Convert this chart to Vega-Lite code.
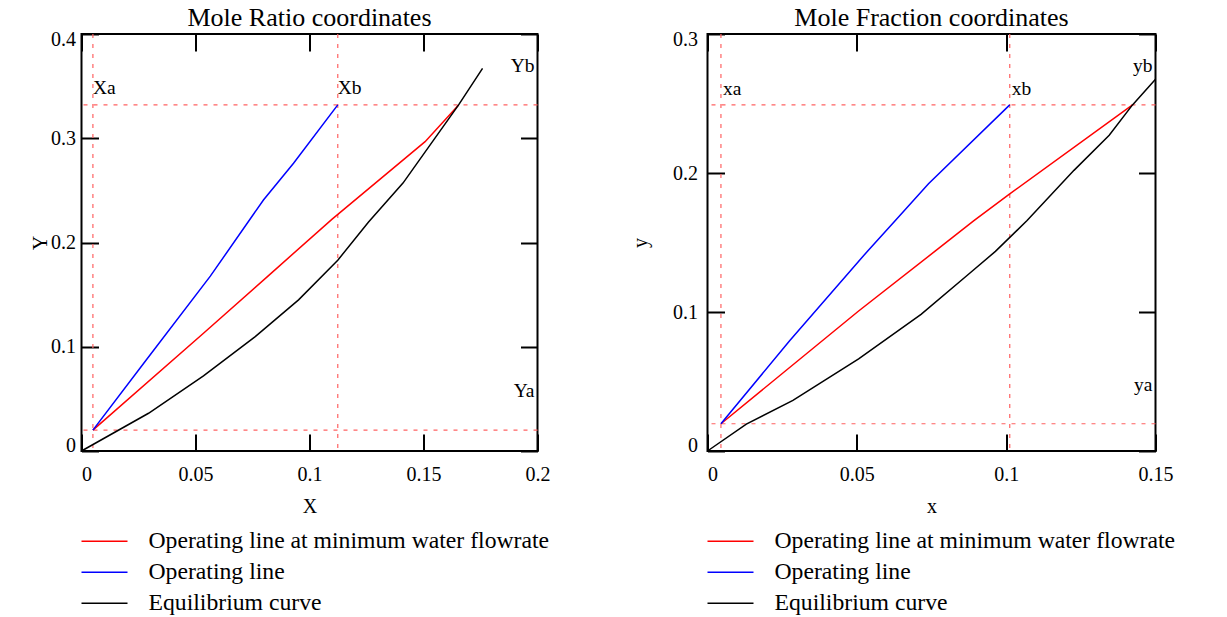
{
  "$schema": "https://vega.github.io/schema/vega-lite/v6.json",
  "padding": {"left": 29.5, "top": 4, "right": 0, "bottom": 0},
  "background": "white",
  "spacing": 77,
  "datasets": {
    "curves": [
      {"p": "R", "s": "Operating line at minimum water flowrate", "o": 1, "x": 0.005, "y": 0.020},
      {"p": "R", "s": "Operating line at minimum water flowrate", "o": 2, "x": 0.0535, "y": 0.113},
      {"p": "R", "s": "Operating line at minimum water flowrate", "o": 3, "x": 0.0824, "y": 0.169},
      {"p": "R", "s": "Operating line at minimum water flowrate", "o": 4, "x": 0.1098, "y": 0.2222},
      {"p": "R", "s": "Operating line at minimum water flowrate", "o": 5, "x": 0.1507, "y": 0.2967},
      {"p": "R", "s": "Operating line at minimum water flowrate", "o": 6, "x": 0.1654, "y": 0.332},
      {"p": "R", "s": "Operating line", "o": 1, "x": 0.005, "y": 0.020},
      {"p": "R", "s": "Operating line", "o": 2, "x": 0.0283, "y": 0.087},
      {"p": "R", "s": "Operating line", "o": 3, "x": 0.0565, "y": 0.1677},
      {"p": "R", "s": "Operating line", "o": 4, "x": 0.0798, "y": 0.2408},
      {"p": "R", "s": "Operating line", "o": 5, "x": 0.093, "y": 0.276},
      {"p": "R", "s": "Operating line", "o": 6, "x": 0.1124, "y": 0.332},
      {"p": "R", "s": "Equilibrium curve", "o": 1, "x": 0, "y": 0},
      {"p": "R", "s": "Equilibrium curve", "o": 2, "x": 0.0294, "y": 0.0362},
      {"p": "R", "s": "Equilibrium curve", "o": 3, "x": 0.0535, "y": 0.072},
      {"p": "R", "s": "Equilibrium curve", "o": 4, "x": 0.0762, "y": 0.1097},
      {"p": "R", "s": "Equilibrium curve", "o": 5, "x": 0.0952, "y": 0.145},
      {"p": "R", "s": "Equilibrium curve", "o": 6, "x": 0.1124, "y": 0.183},
      {"p": "R", "s": "Equilibrium curve", "o": 7, "x": 0.1259, "y": 0.2197},
      {"p": "R", "s": "Equilibrium curve", "o": 8, "x": 0.141, "y": 0.257},
      {"p": "R", "s": "Equilibrium curve", "o": 9, "x": 0.1654, "y": 0.332},
      {"p": "R", "s": "Equilibrium curve", "o": 10, "x": 0.1759, "y": 0.367},
      {"p": "F", "s": "Operating line at minimum water flowrate", "o": 1, "x": 0.0045, "y": 0.0196},
      {"p": "F", "s": "Operating line at minimum water flowrate", "o": 2, "x": 0.0506, "y": 0.1007},
      {"p": "F", "s": "Operating line at minimum water flowrate", "o": 3, "x": 0.0761, "y": 0.1436},
      {"p": "F", "s": "Operating line at minimum water flowrate", "o": 4, "x": 0.0892, "y": 0.1658},
      {"p": "F", "s": "Operating line at minimum water flowrate", "o": 5, "x": 0.1012, "y": 0.185},
      {"p": "F", "s": "Operating line at minimum water flowrate", "o": 6, "x": 0.1423, "y": 0.249},
      {"p": "F", "s": "Operating line", "o": 1, "x": 0.0045, "y": 0.0196},
      {"p": "F", "s": "Operating line", "o": 2, "x": 0.0275, "y": 0.0793},
      {"p": "F", "s": "Operating line", "o": 3, "x": 0.0535, "y": 0.1436},
      {"p": "F", "s": "Operating line", "o": 4, "x": 0.0629, "y": 0.1658},
      {"p": "F", "s": "Operating line", "o": 5, "x": 0.074, "y": 0.1923},
      {"p": "F", "s": "Operating line", "o": 6, "x": 0.1012, "y": 0.249},
      {"p": "F", "s": "Equilibrium curve", "o": 1, "x": 0, "y": 0},
      {"p": "F", "s": "Equilibrium curve", "o": 2, "x": 0.013, "y": 0.0193},
      {"p": "F", "s": "Equilibrium curve", "o": 3, "x": 0.0286, "y": 0.0364},
      {"p": "F", "s": "Equilibrium curve", "o": 4, "x": 0.0506, "y": 0.0662},
      {"p": "F", "s": "Equilibrium curve", "o": 5, "x": 0.0715, "y": 0.0983},
      {"p": "F", "s": "Equilibrium curve", "o": 6, "x": 0.0866, "y": 0.1257},
      {"p": "F", "s": "Equilibrium curve", "o": 7, "x": 0.0964, "y": 0.1436},
      {"p": "F", "s": "Equilibrium curve", "o": 8, "x": 0.107, "y": 0.1658},
      {"p": "F", "s": "Equilibrium curve", "o": 9, "x": 0.1227, "y": 0.2019},
      {"p": "F", "s": "Equilibrium curve", "o": 10, "x": 0.1345, "y": 0.2272},
      {"p": "F", "s": "Equilibrium curve", "o": 11, "x": 0.1423, "y": 0.249},
      {"p": "F", "s": "Equilibrium curve", "o": 12, "x": 0.15, "y": 0.2675}
    ],
    "markers": [
      {"p": "R", "name": "Xa", "dir": "v", "value": 0.005},
      {"p": "R", "name": "Xb", "dir": "v", "value": 0.1124},
      {"p": "R", "name": "Ya", "dir": "h", "value": 0.020},
      {"p": "R", "name": "Yb", "dir": "h", "value": 0.332},
      {"p": "F", "name": "xa", "dir": "v", "value": 0.0045},
      {"p": "F", "name": "xb", "dir": "v", "value": 0.1012},
      {"p": "F", "name": "ya", "dir": "h", "value": 0.0196},
      {"p": "F", "name": "yb", "dir": "h", "value": 0.249}
    ]
  },
  "hconcat": [
    {
      "width": 456,
      "height": 417,
      "title": {"text": "Mole Ratio coordinates"},
      "layer": [
        {
          "data": {"name": "markers"},
          "transform": [{"filter": "datum.p == 'R' && datum.dir == 'v'"}],
          "mark": {"type": "rule", "color": "#ff6262", "strokeWidth": 1.2, "strokeDash": [4, 6]},
          "encoding": {
            "x": {"field": "value", "type": "quantitative", "scale": {"domain": [0, 0.2], "nice": false, "zero": false},
                  "axis": {"orient": "top", "labels": false, "title": null, "values": [0, 0.05, 0.1, 0.15, 0.2]}}
          }
        },
        {
          "data": {"name": "markers"},
          "transform": [{"filter": "datum.p == 'R' && datum.dir == 'h'"}],
          "mark": {"type": "rule", "color": "#ff6262", "strokeWidth": 1.2, "strokeDash": [4, 6]},
          "encoding": {
            "y": {"field": "value", "type": "quantitative", "scale": {"domain": [0, 0.4], "nice": false, "zero": false},
                  "axis": {"orient": "right", "labels": false, "title": null, "values": [0, 0.1, 0.2, 0.3, 0.4]}}
          }
        },
        {
          "data": {"name": "curves"},
          "transform": [{"filter": "datum.p == 'R'"}],
          "mark": {"type": "line", "strokeWidth": 1.5},
          "encoding": {
            "x": {"field": "x", "type": "quantitative", "scale": {"domain": [0, 0.2], "nice": false, "zero": false},
                  "axis": {"orient": "bottom", "title": "X", "values": [0, 0.05, 0.1, 0.15, 0.2], "format": ".2~f",
                           "labelAlign": {"condition": {"test": "datum.value == 0", "value": "left"}, "value": "center"},
                           "labelPadding": 30, "titlePadding": 12}},
            "y": {"field": "y", "type": "quantitative", "scale": {"domain": [0, 0.4], "nice": false, "zero": false},
                  "axis": {"orient": "left", "title": "Y", "values": [0, 0.1, 0.2, 0.3, 0.4], "format": ".1~f",
                           "labelBaseline": {"condition": {"test": "datum.value == 0", "value": "alphabetic"}, "value": "middle"},
                           "labelOffset": {"condition": {"test": "datum.value > 0.35", "value": 5}, "value": 0},
                           "labelPadding": 23, "titlePadding": 0}},
            "color": {"field": "s", "type": "nominal",
                      "scale": {"domain": ["Operating line at minimum water flowrate", "Operating line", "Equilibrium curve"], "range": ["#ff0000", "#0000ff", "#000000"]},
                      "legend": {"orient": "none", "legendX": 10.5, "legendY": 494.7, "title": null}},
            "order": {"field": "o", "type": "quantitative"}
          }
        },
        {
          "data": {"name": "markers"},
          "transform": [{"filter": "datum.p == 'R' && datum.dir == 'v'"}],
          "mark": {"type": "text", "align": "left", "baseline": "middle", "dx": 0, "font": "Liberation Serif", "fontSize": 19.5, "color": "black"},
          "encoding": {
            "x": {"field": "value", "type": "quantitative", "scale": {"domain": [0, 0.2], "nice": false, "zero": false}, "axis": null},
            "y": {"datum": 0.348, "type": "quantitative", "scale": {"domain": [0, 0.4], "nice": false, "zero": false}, "axis": null},
            "text": {"field": "name"}
          }
        },
        {
          "data": {"name": "markers"},
          "transform": [{"filter": "datum.p == 'R' && datum.dir == 'h'"}],
          "mark": {"type": "text", "align": "right", "baseline": "middle", "dx": -3, "dy": -39, "font": "Liberation Serif", "fontSize": 19.5, "color": "black"},
          "encoding": {
            "x": {"datum": 0.2, "type": "quantitative", "scale": {"domain": [0, 0.2], "nice": false, "zero": false}, "axis": null},
            "y": {"field": "value", "type": "quantitative", "scale": {"domain": [0, 0.4], "nice": false, "zero": false}, "axis": null},
            "text": {"field": "name"}
          }
        }
      ],
      "resolve": {"axis": {"x": "independent", "y": "independent"}}
    },
    {
      "width": 448,
      "height": 417,
      "title": {"text": "Mole Fraction coordinates"},
      "layer": [
        {
          "data": {"name": "markers"},
          "transform": [{"filter": "datum.p == 'F' && datum.dir == 'v'"}],
          "mark": {"type": "rule", "color": "#ff6262", "strokeWidth": 1.2, "strokeDash": [4, 6]},
          "encoding": {
            "x": {"field": "value", "type": "quantitative", "scale": {"domain": [0, 0.15], "nice": false, "zero": false},
                  "axis": {"orient": "top", "labels": false, "title": null, "values": [0, 0.05, 0.1, 0.15]}}
          }
        },
        {
          "data": {"name": "markers"},
          "transform": [{"filter": "datum.p == 'F' && datum.dir == 'h'"}],
          "mark": {"type": "rule", "color": "#ff6262", "strokeWidth": 1.2, "strokeDash": [4, 6]},
          "encoding": {
            "y": {"field": "value", "type": "quantitative", "scale": {"domain": [0, 0.3], "nice": false, "zero": false},
                  "axis": {"orient": "right", "labels": false, "title": null, "values": [0, 0.1, 0.2, 0.3]}}
          }
        },
        {
          "data": {"name": "curves"},
          "transform": [{"filter": "datum.p == 'F'"}],
          "mark": {"type": "line", "strokeWidth": 1.5},
          "encoding": {
            "x": {"field": "x", "type": "quantitative", "scale": {"domain": [0, 0.15], "nice": false, "zero": false},
                  "axis": {"orient": "bottom", "title": "x", "values": [0, 0.05, 0.1, 0.15], "format": ".2~f",
                           "labelAlign": {"condition": {"test": "datum.value == 0", "value": "left"}, "value": "center"},
                           "labelPadding": 30, "titlePadding": 12}},
            "y": {"field": "y", "type": "quantitative", "scale": {"domain": [0, 0.3], "nice": false, "zero": false},
                  "axis": {"orient": "left", "title": "y", "values": [0, 0.1, 0.2, 0.3], "format": ".1~f",
                           "labelBaseline": {"condition": {"test": "datum.value == 0", "value": "alphabetic"}, "value": "middle"},
                           "labelOffset": {"condition": {"test": "datum.value > 0.25", "value": 5}, "value": 0},
                           "labelPadding": 27, "titlePadding": 22.5}},
            "color": {"field": "s", "type": "nominal",
                      "scale": {"domain": ["Operating line at minimum water flowrate", "Operating line", "Equilibrium curve"], "range": ["#ff0000", "#0000ff", "#000000"]},
                      "legend": {"orient": "none", "legendX": 10.5, "legendY": 494.7, "title": null}},
            "order": {"field": "o", "type": "quantitative"}
          }
        },
        {
          "data": {"name": "markers"},
          "transform": [{"filter": "datum.p == 'F' && datum.dir == 'v'"}],
          "mark": {"type": "text", "align": "left", "baseline": "middle", "dx": 2, "font": "Liberation Serif", "fontSize": 19.5, "color": "black"},
          "encoding": {
            "x": {"field": "value", "type": "quantitative", "scale": {"domain": [0, 0.15], "nice": false, "zero": false}, "axis": null},
            "y": {"datum": 0.2605, "type": "quantitative", "scale": {"domain": [0, 0.3], "nice": false, "zero": false}, "axis": null},
            "text": {"field": "name"}
          }
        },
        {
          "data": {"name": "markers"},
          "transform": [{"filter": "datum.p == 'F' && datum.dir == 'h'"}],
          "mark": {"type": "text", "align": "right", "baseline": "middle", "dx": -3, "dy": -39, "font": "Liberation Serif", "fontSize": 19.5, "color": "black"},
          "encoding": {
            "x": {"datum": 0.15, "type": "quantitative", "scale": {"domain": [0, 0.15], "nice": false, "zero": false}, "axis": null},
            "y": {"field": "value", "type": "quantitative", "scale": {"domain": [0, 0.3], "nice": false, "zero": false}, "axis": null},
            "text": {"field": "name"}
          }
        }
      ],
      "resolve": {"axis": {"x": "independent", "y": "independent"}}
    }
  ],
  "resolve": {"scale": {"color": "independent"}, "legend": {"color": "independent"}},
  "config": {
    "font": "Liberation Serif",
    "view": {"stroke": "black", "strokeWidth": 2},
    "title": {"font": "Liberation Serif", "fontSize": 26, "fontWeight": "normal", "color": "black", "anchor": "middle", "baseline": "alphabetic", "offset": -2},
    "axis": {"grid": false, "domain": false, "ticks": true, "tickColor": "black", "tickWidth": 2, "tickSize": -17, "labelFlush": false, "labelOverlap": false,
             "labelFont": "Liberation Serif", "labelFontSize": 20, "labelColor": "black",
             "titleFont": "Liberation Serif", "titleFontSize": 20, "titleFontWeight": "normal", "titleColor": "black"},
    "legend": {"symbolType": "M-2,0L2,0", "symbolSize": 529, "symbolStrokeWidth": 1.5, "labelFont": "Liberation Serif", "labelFontSize": 23.7, "labelColor": "black", "labelOffset": 31.5, "rowPadding": 6, "padding": 0, "labelLimit": 0}
  }
}
